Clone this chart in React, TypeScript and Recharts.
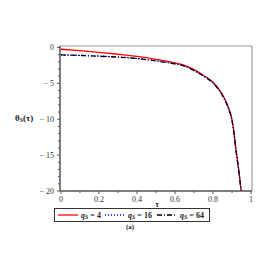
import React from 'react';
import { LineChart, Line, XAxis, YAxis, ReferenceLine, Label } from 'recharts';

const tau = [0, 0.1, 0.2, 0.3, 0.4, 0.5, 0.6, 0.65, 0.7, 0.75, 0.8, 0.85, 0.88, 0.9, 0.91, 0.92, 0.93, 0.94, 0.95];
const q4 = [-0.25, -0.45, -0.68, -0.95, -1.25, -1.65, -2.15, -2.5, -3.1, -3.9, -4.85, -6.6, -8.3, -10.1, -11.8, -14.1, -16.0, -18.1, -20.5];
const q16 = [-1.02, -1.1, -1.2, -1.33, -1.52, -1.85, -2.28, -2.58, -3.2, -3.97, -4.92, -6.7, -8.4, -10.2, -11.9, -14.2, -16.1, -18.2, -20.6];
const q64 = [-1.05, -1.12, -1.22, -1.35, -1.55, -1.88, -2.3, -2.6, -3.22, -4.0, -4.95, -6.72, -8.42, -10.22, -11.92, -14.22, -16.12, -18.22, -20.6];

const xTicks = [0, 0.1, 0.2, 0.3, 0.4, 0.5, 0.6, 0.7, 0.8, 0.9, 1];
const yTicks = [-20, -19, -18, -17, -16, -15, -14, -13, -12, -11, -10, -9, -8, -7, -6, -5, -4, -3, -2, -1, 0];

const data = tau.map((t, i) => ({ tau: t, q4: q4[i], q16: q16[i], q64: q64[i] }));

const FONT = '"Liberation Serif", "DejaVu Serif", serif';
const AXIS = '#555';

const XTick = (p: any) => {
  const { x, y, payload } = p;
  const v = payload.value;
  const major = Math.round(v * 10) % 2 === 0;
  return (
    <g>
      <line x1={x} x2={x} y1={y} y2={y + (major ? 3 : 2)} stroke={AXIS} />
      {major && (
        <text x={x} y={y + 8} textAnchor="middle" dominantBaseline="central" fontSize={8} fontFamily={FONT} fill="#333">
          {String(Math.round(v * 10) / 10)}
        </text>
      )}
    </g>
  );
};

const YTick = (p: any) => {
  const { x, y, payload } = p;
  const v = payload.value;
  const major = v % 5 === 0;
  return (
    <g>
      <line x1={x} x2={x - (major ? 3 : 2)} y1={y} y2={y} stroke={AXIS} />
      {major && (
        <text x={x - 6} y={y} textAnchor="end" dominantBaseline="central" fontSize={8} fontFamily={FONT} fill="#333">
          {v < 0 ? '\u2212 ' + Math.abs(v) : '0'}
        </text>
      )}
    </g>
  );
};

const QLabel = ({ x, y, q }: { x: number; y: number; q: string }) => (
  <text x={x} y={y} fontSize={8} fontFamily={FONT} fontWeight="bold" fill="#222" dominantBaseline="central">
    <tspan fontStyle="italic">q</tspan>
    <tspan fontStyle="italic" fontSize={6} dy={2}>S</tspan>
    <tspan dy={-2}>{' = ' + q}</tspan>
  </text>
);

export default function App() {
  return (
    <div style={{ position: 'absolute', left: 0, top: 0, width: 273, height: 273, background: '#fff' }}>
      <LineChart width={273} height={273} data={data} margin={{ top: 46, right: 21, bottom: 62, left: 40 }}>
        <XAxis
          dataKey="tau"
          type="number"
          domain={[-0.005, 1.005]}
          ticks={xTicks}
          interval={0}
          allowDataOverflow
          height={20}
          tickSize={0}
          tickMargin={0}
          tickLine={false}
          tick={XTick}
          axisLine={{ stroke: AXIS, strokeWidth: 1.5 }}
        >
          <Label
            content={() => (
              <text x={157} y={204} textAnchor="middle" dominantBaseline="central" fontSize={8} fontFamily={FONT} fontWeight="bold" fill="#222">
                τ
              </text>
            )}
          />
        </XAxis>
        <YAxis
          type="number"
          domain={[-20, 0.2]}
          ticks={yTicks}
          interval={0}
          allowDataOverflow
          width={20}
          tickSize={0}
          tickMargin={0}
          tickLine={false}
          tick={YTick}
          axisLine={{ stroke: AXIS, strokeWidth: 1.5 }}
        >
          <Label
            content={() => (
              <text x={15} y={118} dominantBaseline="central" fontSize={9} fontFamily={FONT} fontWeight="bold" fill="#222">
                <tspan>θ</tspan>
                <tspan fontStyle="italic" fontSize={6} dy={2}>S</tspan>
                <tspan dy={-2}>(τ)</tspan>
              </text>
            )}
          />
        </YAxis>
        <ReferenceLine y={0.2} stroke="#999" strokeWidth={1.2} ifOverflow="visible" />
        <ReferenceLine x={1.005} stroke="#999" strokeWidth={1.2} ifOverflow="visible" />
        <Line type="monotone" dataKey="q4" stroke="#ff0000" strokeWidth={1.3} dot={false} isAnimationActive={false} />
        <Line type="monotone" dataKey="q16" stroke="#0000ff" strokeWidth={1.3} strokeDasharray="1 2" dot={false} isAnimationActive={false} />
        <Line type="monotone" dataKey="q64" stroke="#000" strokeWidth={1.3} strokeDasharray="5 2 1 2" dot={false} isAnimationActive={false} />
        <g>
          <rect x={54.5} y={208.5} width={155} height={13} fill="#fff" stroke="#333" strokeWidth={1} />
          <line x1={58} x2={78} y1={215} y2={215} stroke="#ff0000" strokeWidth={1.3} />
          <QLabel x={81} y={215} q="4" />
          <line x1={105} x2={125} y1={215} y2={215} stroke="#0000ff" strokeWidth={1.3} strokeDasharray="1 2" />
          <QLabel x={128} y={215} q="16" />
          <line x1={157} x2={177} y1={215} y2={215} stroke="#000" strokeWidth={1.3} strokeDasharray="5 2 1 2" />
          <QLabel x={180} y={215} q="64" />
          <text x={130} y={227} textAnchor="middle" dominantBaseline="central" fontSize={7} fontFamily={FONT} fontWeight="bold" fill="#222">
            (a)
          </text>
        </g>
      </LineChart>
    </div>
  );
}
